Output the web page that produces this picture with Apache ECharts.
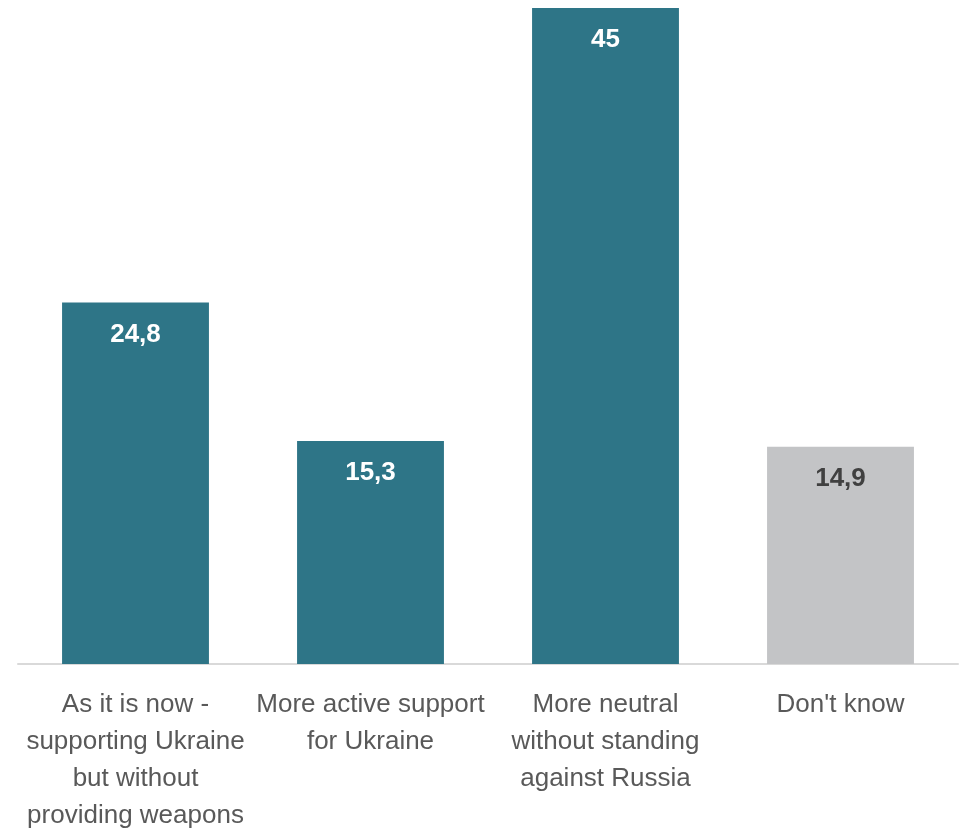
<!DOCTYPE html>
<html><head><meta charset="utf-8">
<script src="https://cdn.jsdelivr.net/npm/echarts@6/dist/echarts.min.js"></script>
<style>html,body{margin:0;padding:0;background:#fff}#c{width:961px;height:830px}</style>
</head><body><div id="c"></div>
<script>
var categories = ["As it is now -\nsupporting Ukraine\nbut without\nproviding weapons", "More active support\nfor Ukraine", "More neutral\nwithout standing\nagainst Russia", "Don't know"];
var values = [24.8, 15.3, 45, 14.9];
var barColors = ["#2e7587", "#2e7587", "#2e7587", "#c3c4c6"];
var labelColors = ["#ffffff", "#ffffff", "#ffffff", "#404040"];
var font = '"Liberation Sans Narrow", "Arial Narrow", "Liberation Sans", Arial, sans-serif';
var chart = echarts.init(document.getElementById('c'));
chart.setOption({
  animation: false,
  grid: { left: 18, right: 3, top: 8, bottom: 166, containLabel: false, outerBoundsMode: 'none' },
  xAxis: {
    type: 'category', data: categories,
    axisLine: { show: true, lineStyle: { color: '#d9d9d9', width: 2 } },
    axisTick: { show: false },
    axisLabel: { interval: 0, color: '#595959', fontSize: 26, lineHeight: 37, margin: 22, fontFamily: font }
  },
  yAxis: { type: 'value', min: 0, max: 45, show: false, splitLine: { show: false } },
  series: [{
    type: 'bar', barWidth: '62.5%',
    data: values.map(function (v, i) {
      return { value: v, itemStyle: { color: barColors[i] },
        label: { color: labelColors[i] } };
    }),
    label: {
      show: true, position: 'insideTop', distance: 19, fontSize: 26, fontWeight: 'bold', fontFamily: font,
      formatter: function (p) { return String(p.value).replace('.', ','); }
    }
  }]
});
</script></body></html>
